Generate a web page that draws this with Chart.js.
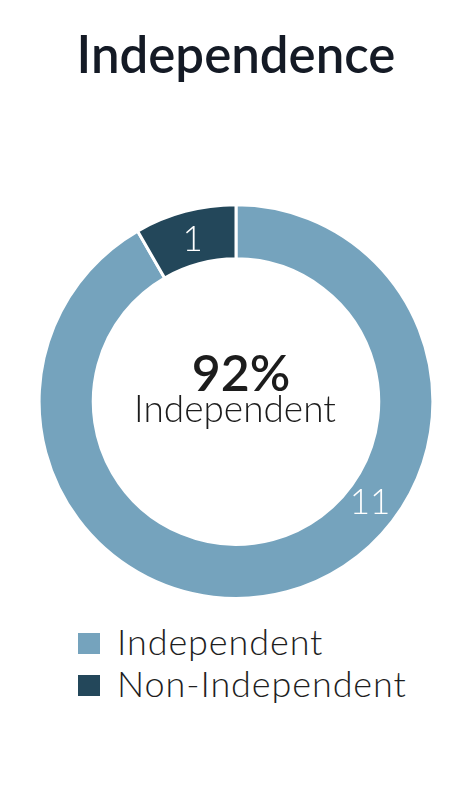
<!DOCTYPE html>
<html>
<head>
<meta charset="utf-8">
<script src="https://cdn.jsdelivr.net/npm/chart.js@4.4.0/dist/chart.umd.min.js"></script>
<style>
  html, body { margin: 0; padding: 0; background: #fff; }
  body { width: 472px; height: 800px; position: relative; overflow: hidden; font-family: "Lato", sans-serif; }
  #wrap { position: absolute; left: 0; top: 0; width: 472px; height: 600px; }
  #legenda { position: absolute; left: 78px; top: 620px; }
  .item-legenda { display: flex; align-items: flex-start; height: 42px; line-height: 42px; font-size: 36px; font-weight: 300; color: #1e1e1e; letter-spacing: 0.9px; white-space: nowrap; }
  .caixa { width: 22px; height: 21px; margin-top: 13px; margin-right: 17px; flex: none; }
</style>
</head>
<body>
<div id="wrap"><canvas id="grafico"></canvas></div>
<div id="legenda"></div>
<script>
const titulo = "Independence";
const categorias = ["Independent", "Non-Independent"];
const valores = [11, 1];
const cores = ["#75a3bd", "#23475a"];

const total = valores.reduce((a, b) => a + b, 0);
const percentual = Math.round(valores[0] / total * 100) + "%";

// texto no centro do anel
const textoCentro = {
  id: "textoCentro",
  afterDraw(chart) {
    const arco = chart.getDatasetMeta(0).data[0];
    if (!arco) return;
    const ctx = chart.ctx;
    ctx.save();
    ctx.textAlign = "center";
    ctx.textBaseline = "alphabetic";
    ctx.fillStyle = "#1c1c1c";
    ctx.font = "600 50px Lato";
    ctx.fillText(percentual, arco.x + 5, arco.y - 10.5);
    ctx.font = "300 37px Lato";
    ctx.fillText(categorias[0], arco.x - 1, arco.y + 20.5);
    ctx.restore();
  }
};

// valores dentro das fatias
const rotulosFatias = {
  id: "rotulosFatias",
  afterDatasetsDraw(chart, args, opts) {
    const meta = chart.getDatasetMeta(0);
    const ctx = chart.ctx;
    ctx.save();
    ctx.fillStyle = "#ffffff";
    ctx.font = "300 35px Lato";
    ctx.textAlign = "center";
    ctx.textBaseline = "middle";
    meta.data.forEach((arco, i) => {
      const frac = opts.posicoes[i];
      const ang = arco.startAngle + (arco.endAngle - arco.startAngle) * frac;
      const r = (arco.innerRadius + arco.outerRadius) / 2 - 2;
      ctx.fillText(String(valores[i]), arco.x + Math.cos(ang) * r, arco.y + Math.sin(ang) * r);
    });
    ctx.restore();
  }
};

const grafico = new Chart(document.getElementById("grafico"), {
  type: "doughnut",
  data: {
    labels: categorias,
    datasets: [{
      data: valores,
      backgroundColor: cores,
      borderColor: "#ffffff",
      borderWidth: 3
    }]
  },
  options: {
    responsive: true,
    maintainAspectRatio: false,
    animation: false,
    cutout: "72.5%",
    layout: { padding: 0 },
    plugins: {
      legend: { display: false },
      tooltip: { enabled: false },
      title: {
        display: true,
        text: titulo,
        color: "#141a25",
        font: { family: "Lato", size: 51, weight: "600", lineHeight: 1.2 },
        padding: { top: 26, bottom: 116 }
      },
      rotulosFatias: { posicoes: [0.385, 0.5] }
    }
  },
  plugins: [textoCentro, rotulosFatias]
});

const legenda = document.getElementById("legenda");
categorias.forEach((nome, i) => {
  const div = document.createElement("div");
  div.classList.add("item-legenda");
  div.innerHTML = `<span class="caixa" style="background:${cores[i]}"></span><span>${nome}</span>`;
  legenda.appendChild(div);
});
</script>
</body>
</html>
